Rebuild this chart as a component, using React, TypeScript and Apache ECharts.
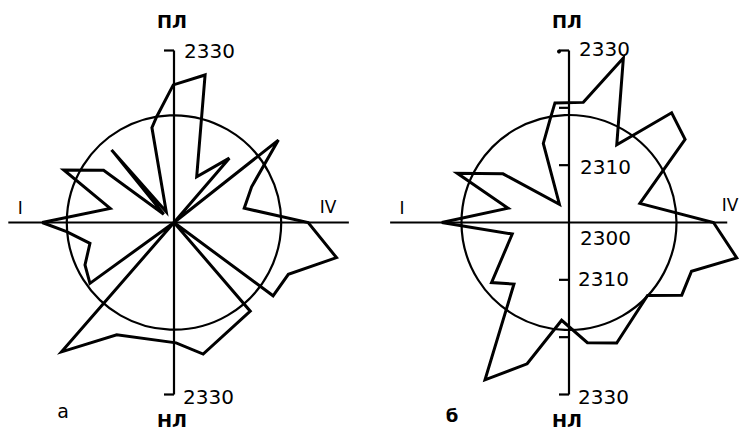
import React, { useEffect, useRef } from 'react';
import * as echarts from 'echarts';

// Chart "а": polar vertices (angle in degrees, counter-clockwise from the IV direction) and values
const anglesA = [180, 167.5, 154.5, 143.4, 141, 130.7, 126, 103.1, 99.3, 90.3, 78.1, 63.6, 49.3, 45, 38.3, 24.7, 11.5, 0, 347.8, 335.6, 323.5, 320, 310.7, 282.5, 271, 243, 229, 225, 215.9, 205.5, 193.9, 184.9, 180];
const valuesA = [2323.0, 2311.4, 2321.3, 2315.3, 2302.3, 2316.7, 2302.3, 2317.0, 2318.7, 2324.0, 2326.3, 2308.9, 2314.8, 2300, 2323.2, 2314.9, 2312.5, 2323.4, 2329.0, 2321.9, 2321.5, 2300, 2320.4, 2323.5, 2321.0, 2322.0, 2329.9, 2300, 2318.1, 2317.2, 2315.1, 2318.8, 2323.0];

// Chart "б"
const anglesB = [180, 166.8, 156.2, 143.6, 117.7, 108, 100.4, 96.7, 83.2, 71.7, 58.4, 46.9, 35.6, 15.1, 0, 348.1, 338.3, 327.2, 317.1, 291.6, 278.7, 265.7, 253.5, 241.9, 228.2, 217.8, 191.5, 180];
const valuesB = [2322.2, 2310.9, 2321.3, 2314.3, 2303.6, 2314.5, 2318.3, 2321.0, 2321.1, 2330.2, 2315.9, 2326.2, 2324.9, 2312.8, 2325.2, 2329.9, 2323.0, 2323.4, 2318.7, 2322.6, 2321.2, 2317.1, 2325.7, 2331.1, 2314.4, 2317.1, 2310.1, 2322.2];

// Reference circle level for each chart
const circleLevels = [2318.7, 2318.75];
// Vertical axis end value and horizontal axis extents (left, right) per chart
const axisEnd = 2330;
const hAxisLeft = [2328.9, 2331.2];
const hAxisRight = [2330.5, 2327.6];
// Tick values (chart б only)
const tickValuesB = [2310, 2320];
// Labels
const topLabel = '2330';
const bottomLabel = '2330';
const midLabelsB = ['2310', '2300', '2310'];
const panelLetters = ['а', 'б'];
const topNames = 'ПЛ';
const bottomNames = 'НЛ';
const leftDir = 'I';
const rightDir = 'IV';

const R_MIN = 2300;
const R_MAX = 2340;
const CENTERS: [number, number][] = [[174, 222.5], [569, 222.5]];
const POLAR_RADIUS = (172 * 40) / 30;

export default function App() {
  const ref = useRef<HTMLDivElement>(null);
  useEffect(() => {
    document.body.style.margin = '0';
    const chart = echarts.init(ref.current!, null, { renderer: 'svg' });
    const lineStyle = { color: '#000', width: 3, join: 'miter', miterLimit: 4 };
    chart.setOption({
      animation: false,
      backgroundColor: '#fff',
      polar: CENTERS.map((c) => ({ center: c, radius: POLAR_RADIUS })),
      angleAxis: [0, 1].map((i) => ({
        polarIndex: i, type: 'value', min: 0, max: 360, startAngle: 0, clockwise: false, show: false,
      })),
      radiusAxis: [0, 1].map((i) => ({
        polarIndex: i, type: 'value', min: R_MIN, max: R_MAX, show: false,
      })),
      series: [
        {
          type: 'line', coordinateSystem: 'polar', polarIndex: 0, symbol: 'none', clip: false, silent: true,
          data: valuesA.map((v, k) => [v, anglesA[k]]), lineStyle, z: 3,
        },
        {
          type: 'line', coordinateSystem: 'polar', polarIndex: 1, symbol: 'none', clip: false, silent: true,
          data: valuesB.map((v, k) => [v, anglesB[k]]), lineStyle, z: 3,
        },
      ],
    });

    const px = (i: number, r: number, a: number): number[] => {
      let p: any = null;
      try {
        p = chart.convertToPixel({ polarIndex: i } as any, [r, a]);
      } catch (e) {
        p = null;
      }
      if (!p || !isFinite(p[0]) || !isFinite(p[1])) {
        const rr = ((r - R_MIN) / (R_MAX - R_MIN)) * POLAR_RADIUS;
        const rad = (a * Math.PI) / 180;
        p = [CENTERS[i][0] + rr * Math.cos(rad), CENTERS[i][1] - rr * Math.sin(rad)];
      }
      return p;
    };

    const stroke = { stroke: '#000', lineWidth: 2.2 };
    const numFont = { fill: '#000', fontFamily: 'DejaVu Sans', fontSize: 20, fontWeight: 'normal' as const };
    const nameFont = { fill: '#000', fontFamily: 'DejaVu Sans', fontSize: 18, fontWeight: 'bold' as const };
    const els: any[] = [];
    const line = (x1: number, y1: number, x2: number, y2: number, w = 2.2) =>
      els.push({ type: 'line', shape: { x1, y1, x2, y2 }, style: { ...stroke, lineWidth: w }, silent: true, z: 2 });
    const text = (t: string, x: number, y: number, st: any, align = 'left') =>
      els.push({ type: 'text', x, y, style: { text: t, ...st, align, verticalAlign: 'middle' }, silent: true, z: 4 });

    for (let i = 0; i < 2; i++) {
      const c = px(i, R_MIN, 0);
      const cr = px(i, circleLevels[i], 0)[0] - c[0];
      els.push({ type: 'circle', shape: { cx: c[0], cy: c[1], r: cr }, style: { fill: 'none', stroke: '#000', lineWidth: 2.2 }, silent: true, z: 2 });
      const top = px(i, axisEnd, 90);
      const bot = px(i, axisEnd, 270);
      line(top[0], top[1], bot[0], bot[1]);
      line(top[0] - 10, top[1], top[0], top[1]);
      line(bot[0] - 10, bot[1], bot[0], bot[1]);
      const l = px(i, hAxisLeft[i], 180);
      const r = px(i, hAxisRight[i], 0);
      line(l[0], l[1], r[0], r[1]);
      text(topLabel, top[0] + 10, top[1] - (i === 1 ? 2 : 0), numFont);
      text(bottomLabel, bot[0] + 9, bot[1] + 2, numFont);
      text(topNames, top[0] - 2, top[1] - 29, nameFont, 'center');
      text(bottomNames, bot[0] - 2, bot[1] + 26, nameFont, 'center');
      text(leftDir, l[0] + 12, l[1] - 15, { ...nameFont, fontWeight: 'normal', fontSize: 17 }, 'center');
    }
    // chart б extras
    const tb = px(1, axisEnd, 90);
    els.push({ type: 'circle', shape: { cx: tb[0] - 10, cy: tb[1] + 1, r: 2 }, style: { fill: '#000' }, silent: true, z: 2 });
    tickValuesB.forEach((v) => {
      const u = px(1, v, 90);
      const d = px(1, v, 270);
      line(u[0] - 10, u[1], u[0], u[1]);
      line(d[0] - 10, d[1], d[0], d[1]);
    });
    const t1 = px(1, tickValuesB[0], 90);
    const t2 = px(1, tickValuesB[0], 270);
    const cB = px(1, R_MIN, 0);
    text(midLabelsB[0], t1[0] + 11, t1[1] + 2, numFont);
    text(midLabelsB[1], cB[0] + 11, cB[1] + 15, numFont);
    text(midLabelsB[2], t2[0] + 9, t2[1] - 1, numFont);
    // direction IV labels
    text(rightDir, 328, 207, { ...nameFont, fontWeight: 'normal', fontSize: 17 }, 'center');
    text(rightDir, 730, 205, { ...nameFont, fontWeight: 'normal', fontSize: 17 }, 'center');
    // panel letters
    text(panelLetters[0], 63, 411, { ...nameFont, fontWeight: 'normal', fontSize: 19 }, 'center');
    text(panelLetters[1], 452, 415, { ...nameFont, fontWeight: 'bold', fontSize: 18 }, 'center');

    chart.setOption({ graphic: els });
    return () => chart.dispose();
  }, []);
  return <div ref={ref} style={{ width: 741, height: 432 }} />;
}
